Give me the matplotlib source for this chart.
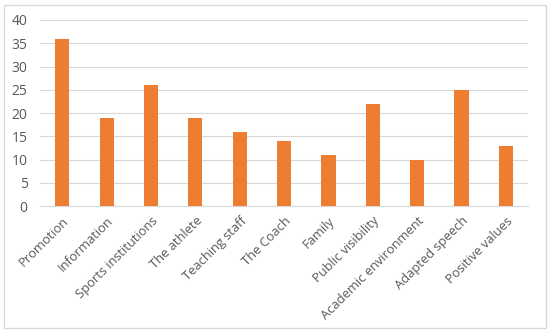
import matplotlib
matplotlib.use("Agg")
import matplotlib.pyplot as plt
from matplotlib.patches import Rectangle

categories = ["Promotion", "Information", "Sports institutions", "The athlete",
              "Teaching staff", "The Coach", "Family", "Public visibility",
              "Academic environment", "Adapted speech", "Positive values"]
values = [36, 19, 26, 19, 16, 14, 11, 22, 10, 25, 13]
yticks = [0, 5, 10, 15, 20, 25, 30, 35, 40]

plt.rcParams['font.family'] = ['Open Sans', 'DejaVu Sans']

fig = plt.figure(figsize=(5.5, 3.33), dpi=100)
ax = fig.add_axes([0.073, 0.381, 0.887, 0.559])
x = list(range(len(categories)))
ax.bar(x, values, width=0.32, color="#ED7D31", zorder=3)
ax.set_xlim(-0.5, len(categories) - 0.5)
ax.set_ylim(0, 40)
ax.set_yticks(yticks)
ax.set_yticklabels([str(t) for t in yticks], fontsize=10, color="#595959")
ax.set_xticks(x)
ax.set_xticklabels(categories, rotation=45, ha="right", rotation_mode="anchor",
                   fontsize=9.3, color="#595959")
ax.grid(axis="y", color="#D9D9D9", linewidth=0.8, zorder=0)
for s in ["top", "right", "left"]:
    ax.spines[s].set_visible(False)
ax.spines["bottom"].set_color("#D9D9D9")
ax.tick_params(axis="both", length=0)
ax.tick_params(axis="y", pad=9)
ax.tick_params(axis="x", pad=6)

fig.patches.append(Rectangle((0.008, 0.015), 0.984, 0.97, transform=fig.transFigure,
                             fill=False, edgecolor="#D9D9D9", linewidth=1))
fig.savefig("out.png", dpi=100)
